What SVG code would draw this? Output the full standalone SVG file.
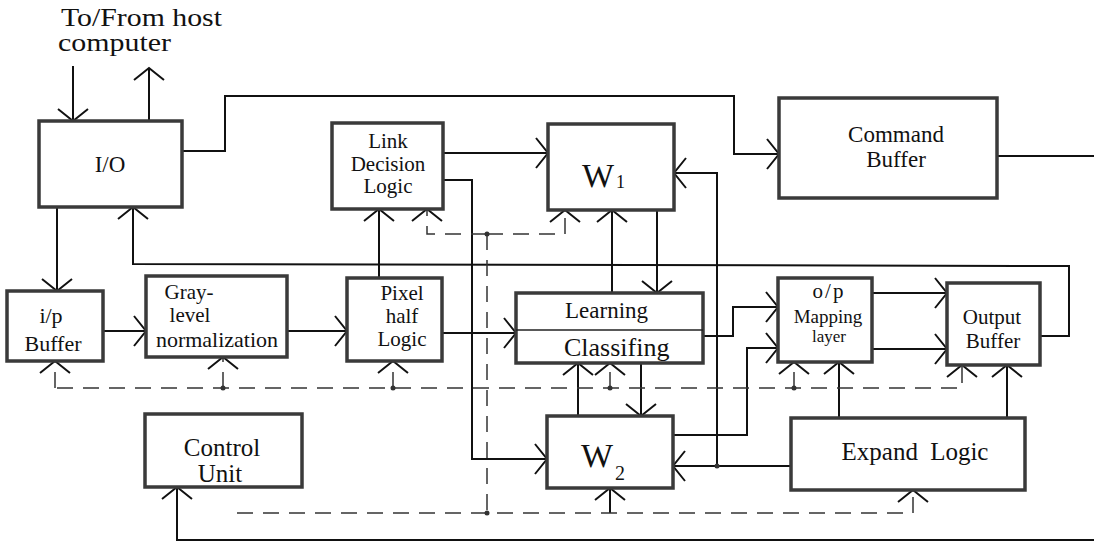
<svg xmlns="http://www.w3.org/2000/svg" width="1094" height="546" viewBox="0 0 1094 546" font-family="'Liberation Serif', 'Times New Roman', 'DejaVu Serif', serif">
<style>
.box{fill:#fff;stroke:#3a3a3a;stroke-width:3.5}
.t{fill:#111;text-anchor:middle}
.s{text-anchor:start}
.c{fill:none;stroke:#111;stroke-width:2}
.d{fill:none;stroke:#333;stroke-width:1.5;stroke-dasharray:16 10}
.dot{fill:#333}
</style>
<defs>
<marker id="ah" markerUnits="userSpaceOnUse" viewBox="-14 -17 16 34" markerWidth="16" markerHeight="34" refX="0" refY="0" orient="auto" overflow="visible">
<path d="M-12,-15 L0,0 L-12,15" fill="none" stroke="#111" stroke-width="2"/>
</marker>
</defs>
<rect width="1094" height="546" fill="#fff"/>
<g id="host-label">
<text class="t s" x="61" y="26" font-size="25" textLength="161" lengthAdjust="spacingAndGlyphs">To/From host</text>
<text class="t s" x="58" y="51" font-size="25" textLength="113" lengthAdjust="spacingAndGlyphs">computer</text>
</g>

<g id="connectors">
<path class="c" d="M73,66 L73,121" marker-end="url(#ah)"/>
<path class="c" d="M149,121 L149,68" marker-end="url(#ah)"/>
<path class="c" d="M182,151 L225,151 L225,96 L734,96 L734,154 L779,154" marker-end="url(#ah)"/>
<path class="c" d="M997,156 L1094,156"/>
<path class="c" d="M57,207 L57,291" marker-end="url(#ah)"/>
<path class="c" d="M1040,336 L1069,336 L1069,266 L133,264 L133,207" marker-end="url(#ah)"/>
<path class="c" d="M103,331 L146,331" marker-end="url(#ah)"/>
<path class="c" d="M287,331 L347,331" marker-end="url(#ah)"/>
<path class="c" d="M442,333 L516,333" marker-end="url(#ah)"/>
<path class="c" d="M379,278 L379,209" marker-end="url(#ah)"/>
<path class="c" d="M443,153 L548,153" marker-end="url(#ah)"/>
<path class="c" d="M443,180 L472,180 L472,459 L547,459" marker-end="url(#ah)"/>
<path class="c" d="M612,293 L612,210" marker-end="url(#ah)"/>
<path class="c" d="M657,210 L657,293" marker-end="url(#ah)"/>
<path class="c" d="M578,416 L578,363" marker-end="url(#ah)"/>
<path class="c" d="M641,363 L641,416" marker-end="url(#ah)"/>
<path class="c" d="M703,336 L733,336 L733,307 L778,307" marker-end="url(#ah)"/>
<path class="c" d="M673,435 L747,435 L747,348 L778,348" marker-end="url(#ah)"/>
<path class="c" d="M872,293 L947,293" marker-end="url(#ah)"/>
<path class="c" d="M872,349 L947,349" marker-end="url(#ah)"/>
<path class="c" d="M791,466 L673,466" marker-end="url(#ah)"/>
<path class="c" d="M717,466 L717,173 L674,173" marker-end="url(#ah)"/>
<circle cx="717" cy="466" r="2.5" class="dot"/>
<path class="c" d="M839,418 L839,362" marker-end="url(#ah)"/>
<path class="c" d="M1007,418 L1007,365" marker-end="url(#ah)"/>
<path class="c" d="M1094,540 L177,540 L177,487" marker-end="url(#ah)"/>
<path class="c" d="M610,513 L610,488" marker-end="url(#ah)"/>

<path class="d" d="M487,234 L427,234 L427,209" marker-end="url(#ah)"/>
<path class="d" d="M487,234 L565,234 L565,210" marker-end="url(#ah)"/>
<path class="d" d="M487,234 L487,513"/>
<path class="d" d="M237,513 L913,513 L913,490" marker-end="url(#ah)"/>
<path class="d" d="M57,388 L962,388 L962,365" marker-end="url(#ah)"/>
<path class="d" d="M55,388 L55,361" marker-end="url(#ah)"/>
<path class="d" d="M223,388 L223,357" marker-end="url(#ah)"/>
<path class="d" d="M393,388 L393,361" marker-end="url(#ah)"/>
<path class="d" d="M610,388 L610,363" marker-end="url(#ah)"/>
<path class="d" d="M794,388 L794,362" marker-end="url(#ah)"/>
<circle cx="487" cy="234" r="2.5" class="dot"/>
<circle cx="487" cy="513" r="2.5" class="dot"/>
<circle cx="223" cy="388" r="2.5" class="dot"/>
<circle cx="393" cy="388" r="2.5" class="dot"/>
<circle cx="610" cy="388" r="2.5" class="dot"/>
<circle cx="794" cy="388" r="2.5" class="dot"/>
</g>

<g id="io"><rect class="box" x="39" y="121" width="143" height="86"/><text class="t" x="110" y="172" font-size="23">I/O</text></g>
<g id="link"><rect class="box" x="332" y="123" width="111" height="86"/>
<text class="t" x="388" y="148" font-size="21">Link</text><text class="t" x="388" y="171" font-size="21">Decision</text><text class="t" x="388" y="193" font-size="21">Logic</text></g>
<g id="w1"><rect class="box" x="548" y="124" width="126" height="86"/>
<text class="t" x="598" y="187" font-size="34">W</text><text class="t s" x="616" y="188" font-size="18">1</text></g>
<g id="cmd"><rect class="box" x="779" y="98" width="218" height="100"/>
<text class="t" x="896" y="142" font-size="23">Command</text><text class="t" x="896" y="167" font-size="23">Buffer</text></g>
<g id="ipbuf"><rect class="box" x="7" y="291" width="96" height="70"/>
<text class="t" x="51" y="323" font-size="22">i/p</text><text class="t" x="53" y="351" font-size="22">Buffer</text></g>
<g id="gray"><rect class="box" x="146" y="276" width="141" height="81"/>
<text class="t" x="189" y="299" font-size="21">Gray-</text><text class="t" x="190" y="322" font-size="21">level</text><text class="t" x="217" y="347" font-size="22">normalization</text></g>
<g id="pixel"><rect class="box" x="347" y="278" width="95" height="83"/>
<text class="t" x="402" y="300" font-size="21">Pixel</text><text class="t" x="402" y="323" font-size="21">half</text><text class="t" x="402" y="346" font-size="21">Logic</text></g>
<g id="learn"><rect class="box" x="516" y="293" width="187" height="70"/>
<line x1="516" y1="330" x2="703" y2="330" stroke="#222" stroke-width="1.5"/>
<text class="t s" x="565" y="318" font-size="23">Learning</text>
<text class="t s" x="564" y="356" font-size="26">Classifing</text></g>
<g id="w2"><rect class="box" x="547" y="416" width="126" height="72"/>
<text class="t" x="597" y="467" font-size="34">W</text><text class="t s" x="615" y="480" font-size="20">2</text></g>
<g id="ctrl"><rect class="box" x="145" y="414" width="157" height="73"/>
<text class="t" x="222" y="456" font-size="25">Control</text><text class="t" x="220" y="482" font-size="25">Unit</text></g>
<g id="map"><rect class="box" x="778" y="278" width="94" height="84"/>
<text class="t" x="829" y="298" font-size="21" letter-spacing="2">o/p</text><text class="t" x="828" y="323" font-size="19">Mapping</text><text class="t" x="829" y="342" font-size="17">layer</text></g>
<g id="outbuf"><rect class="box" x="947" y="283" width="93" height="82"/>
<text class="t" x="992" y="324" font-size="21">Output</text><text class="t" x="993" y="348" font-size="21">Buffer</text></g>
<g id="expand"><rect class="box" x="791" y="418" width="234" height="72"/>
<text class="t" x="915" y="460" font-size="25" word-spacing="6">Expand Logic</text></g>
</svg>
